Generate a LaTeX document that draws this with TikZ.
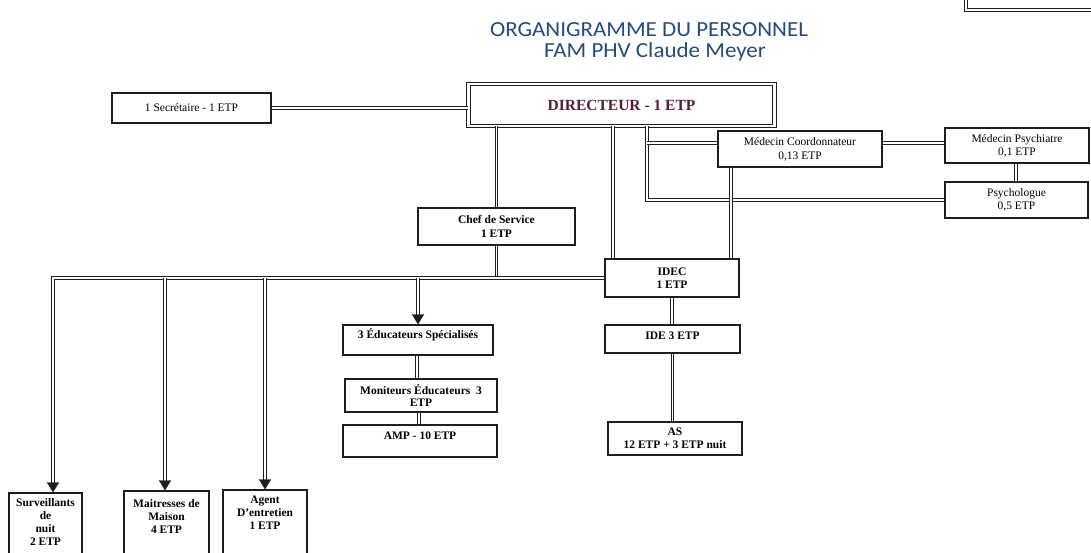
\documentclass[tikz,border=0pt]{standalone}
\usepackage{fontspec}
\setmainfont{Liberation Serif}
\newfontfamily\titlefont{Carlito}
\usetikzlibrary{arrows.meta,calc}
\definecolor{titleblue}{RGB}{35,75,125}
\definecolor{dirred}{RGB}{85,30,45}
\definecolor{ink}{RGB}{30,30,30}
\begin{document}
\begin{tikzpicture}[x=1pt,y=-1pt,
  bx/.style={draw=ink, line width=1.2pt, inner sep=0pt, align=center, font=\fontsize{11.5}{13}\selectfont},
  bxb/.style={bx, font=\fontsize{11.5}{13}\selectfont\bfseries},
  lbl/.style={inner sep=0pt, align=center, font=\fontsize{11.5}{13}\selectfont\bfseries},
  dbx/.style={draw=ink, line width=1pt, double=white, double distance=2.2pt, inner sep=0pt},
  dl/.style={draw=ink, line width=1pt, double=white, double distance=1.8pt},
  tip/.style={draw=white, line width=0.3pt, -{Triangle[width=12pt,length=10pt,color=ink]}},
  ttl/.style={inner sep=0pt, anchor=base, text=titleblue, font=\titlefont\fontsize{21.5}{24}\selectfont},
]
\useasboundingbox (0,0) rectangle (1091,553);
\clip (0,0) rectangle (1091,553);

% title
\node[ttl, xscale=1.07] (t1) at (649,37) {ORGANIGRAMME DU PERSONNEL};
\node[ttl, xscale=1.07] (t2) at (655,58) {FAM PHV Claude Meyer};

% partial box top right
\node[dbx, minimum width=130pt, minimum height=20pt] (topbox) at (1031,0) {};

% boxes
\node[bx, minimum width=159pt, minimum height=30pt] (sec) at (191.5,108) {1 Secrétaire - 1 ETP};
\node[dbx, minimum width=306pt, minimum height=42pt, text=dirred,
      font=\fontsize{15.5}{18}\selectfont\bfseries] (dir) at (621.5,105) {DIRECTEUR - 1 ETP};
\node[bx, minimum width=164pt, minimum height=36pt, font=\fontsize{11.5}{14}\selectfont] (mc) at (800,149) {Médecin Coordonnateur\\0,13 ETP};
\node[bx, minimum width=144pt, minimum height=35pt] (mp) at (1017,145.5) {Médecin Psychiatre\\0,1 ETP};
\node[bx, minimum width=143pt, minimum height=36pt] (psy) at (1016.5,200) {Psychologue\\0,5 ETP};
\node[bxb, minimum width=157pt, minimum height=37pt, font=\fontsize{11.5}{14}\selectfont\bfseries] (chef) at (496.5,226.5) {Chef de Service\\1 ETP};
\node[bxb, minimum width=134pt, minimum height=38pt] (idec) at (672,278) {IDEC\\1 ETP};

\node[bx, minimum width=150pt, minimum height=30pt] (edu) at (418,340) {};
\node[lbl, anchor=base] (edu-t) at ($(edu.north)+(0,14)$) {3 Éducateurs Spécialisés};
\node[bxb, minimum width=152pt, minimum height=33pt, font=\fontsize{11.5}{12.5}\selectfont\bfseries] (mon) at (421,395.5) {Moniteurs Éducateurs\ \ 3\\ETP};
\node[bx, minimum width=154pt, minimum height=32pt] (amp) at (420,441) {};
\node[lbl, anchor=base] (amp-t) at ($(amp.north)+(0,15)$) {AMP - 10 ETP};

\node[bx, minimum width=135pt, minimum height=28pt] (ide) at (672.5,339) {};
\node[lbl, anchor=base] (ide-t) at ($(ide.north)+(0,15)$) {IDE 3 ETP};
\node[bxb, minimum width=134pt, minimum height=33pt] (as) at (675,438.5) {AS\\12 ETP + 3 ETP nuit};

\node[bx, minimum width=73pt, minimum height=67pt] (surv) at (45.5,526.5) {};
\node[lbl, anchor=north] (surv-t) at ($(surv.north)+(0,6)$) {Surveillants\\de\\nuit\\2 ETP};
\node[bx, minimum width=85pt, minimum height=69pt] (mai) at (166.5,525.5) {};
\node[lbl, anchor=north] (mai-t) at ($(mai.north)+(0,8.5)$) {Maitresses de\\Maison\\4 ETP};
\node[bx, minimum width=84pt, minimum height=70pt] (agent) at (265,525) {};
\node[lbl, anchor=north] (agent-t) at ($(agent.north)+(0,6)$) {Agent\\D'entretien\\1 ETP};

% helper coordinates
\coordinate (x613) at (613,0);
\coordinate (x647) at (647,0);
\coordinate (y143) at (0,143);
\coordinate (x731) at (731,0);
\coordinate (x1016) at (1016,0);
\coordinate (bL) at (53,278);
\coordinate (b2) at (165,278);
\coordinate (b3) at (265,278);
\coordinate (b4) at (418,278);

% connectors
\draw[dl] (sec.east) -- (sec.east -| dir.west);
\draw[dl] (chef.north |- dir.south) -- (chef.north);
\draw[dl] (x613 |- dir.south) -- (x613 |- idec.north);
\draw[dl] (x647 |- dir.south) -- (x647 |- psy.west) -- (psy.west);
\draw[dl] (x647 |- y143) -- (mc.west |- y143);
\draw[dl] (mc.east |- y143) -- (mp.west |- y143);
\draw[dl] (x1016 |- mp.south) -- (x1016 |- psy.north);
\draw[dl] (x731 |- mc.south) -- (x731 |- idec.north);
\draw[dl] (chef.south) -- (chef.south |- bL);
\draw[dl] (idec.south) -- (idec.south |- ide.north);
\draw[dl] (ide.south) -- (ide.south |- as.north);
\draw[dl] (edu.south -| 417,0) -- (mon.north -| 417,0);
\draw[dl] (mon.south -| 419,0) -- (amp.north -| 419,0);

% bus and arrows
\draw[dl, shorten >=4pt] (idec.west) -- (bL) -- (bL |- surv.north);
\draw[tip] (bL) -- (bL |- surv.north);
\draw[dl, shorten >=4pt] (b2) -- (b2 |- mai.north);
\draw[tip] (b2) -- (b2 |- mai.north);
\draw[dl, shorten >=4pt] (b3) -- (b3 |- agent.north);
\draw[tip] (b3) -- (b3 |- agent.north);
\draw[dl, shorten >=4pt] (b4) -- (b4 |- edu.north);
\draw[tip] (b4) -- (b4 |- edu.north);
\end{tikzpicture}
\end{document}
